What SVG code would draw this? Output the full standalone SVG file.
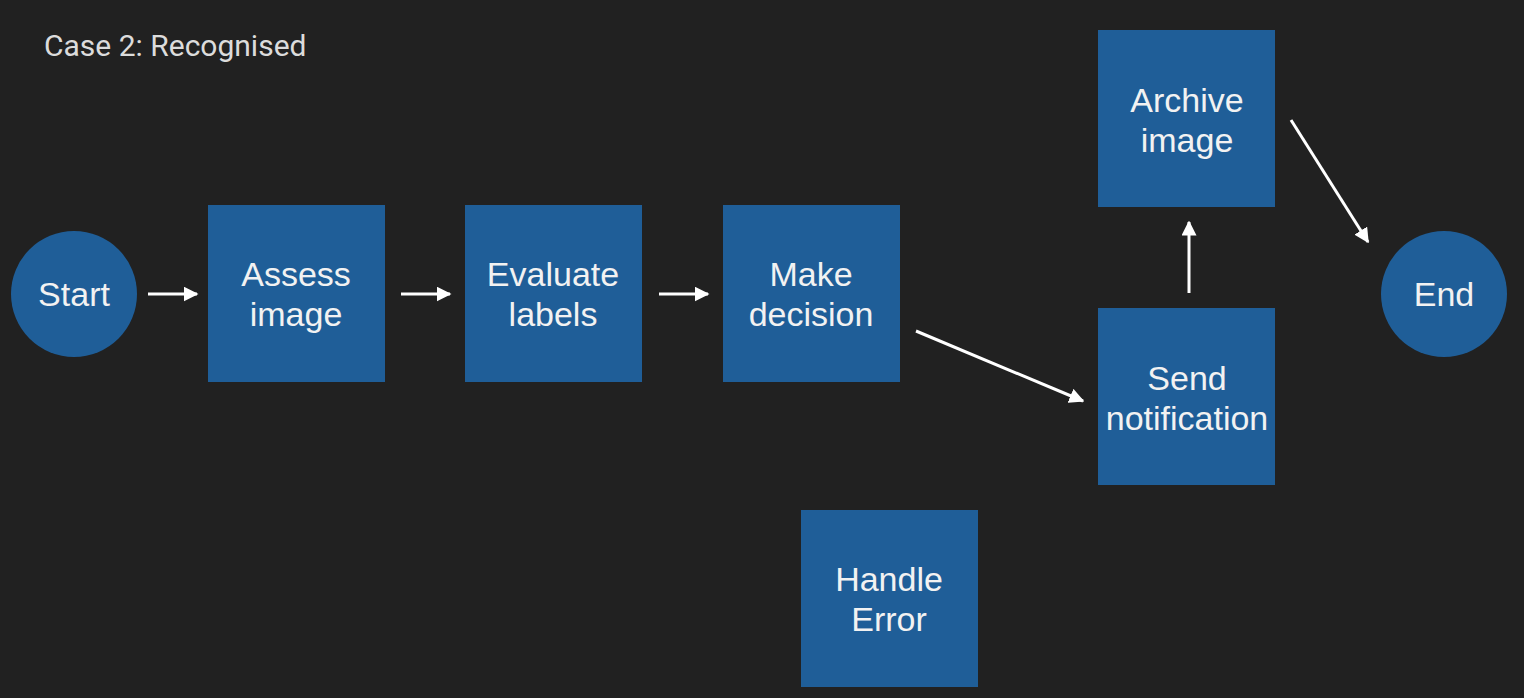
<svg xmlns="http://www.w3.org/2000/svg" width="1524" height="698" viewBox="0 0 1524 698">
<defs>
<style>
.box{fill:#1f5e98}
.lbl{font-family:"Liberation Sans",Arial,sans-serif;font-size:34px;fill:#f2f2f2;text-anchor:middle}
.conn{stroke:#ffffff;stroke-width:3;fill:none;marker-end:url(#ah)}
.title{font-family:Roboto,"Liberation Sans",sans-serif;font-size:30px;fill:#dcdcdc}
</style>
<marker id="ah" viewBox="0 0 10 10" refX="9" refY="5" markerWidth="5" markerHeight="5" orient="auto" markerUnits="strokeWidth">
<path d="M0,0 L10,5 L0,10 z" fill="#ffffff"/>
</marker>
</defs>
<rect width="1524" height="698" fill="#212121"/>
<text class="title" x="44" y="56">Case 2: Recognised</text>
<g id="start"><circle class="box" cx="74" cy="294" r="63"/><text class="lbl" x="74" y="306">Start</text></g>
<g id="assess"><rect class="box" x="208" y="205" width="177" height="177"/><text class="lbl" x="296" y="286">Assess</text><text class="lbl" x="296" y="326">image</text></g>
<g id="evaluate"><rect class="box" x="465" y="205" width="177" height="177"/><text class="lbl" x="553" y="286">Evaluate</text><text class="lbl" x="553" y="326">labels</text></g>
<g id="decision"><rect class="box" x="723" y="205" width="177" height="177"/><text class="lbl" x="811" y="286">Make</text><text class="lbl" x="811" y="326">decision</text></g>
<g id="notify"><rect class="box" x="1098" y="308" width="177" height="177"/><text class="lbl" x="1187" y="390">Send</text><text class="lbl" x="1187" y="430">notification</text></g>
<g id="archive"><rect class="box" x="1098" y="30" width="177" height="177"/><text class="lbl" x="1187" y="112">Archive</text><text class="lbl" x="1187" y="152">image</text></g>
<g id="end"><circle class="box" cx="1444" cy="294" r="63"/><text class="lbl" x="1444" y="306">End</text></g>
<g id="error"><rect class="box" x="801" y="510" width="177" height="177"/><text class="lbl" x="889" y="591">Handle</text><text class="lbl" x="889" y="631">Error</text></g>
<g id="connectors">
<line class="conn" x1="148" y1="294" x2="197" y2="294"/>
<line class="conn" x1="401" y1="294" x2="450" y2="294"/>
<line class="conn" x1="659" y1="294" x2="708" y2="294"/>
<line class="conn" x1="916" y1="331" x2="1083" y2="401"/>
<line class="conn" x1="1189" y1="293" x2="1189" y2="222"/>
<line class="conn" x1="1291" y1="120" x2="1368" y2="242"/>
</g>
</svg>
